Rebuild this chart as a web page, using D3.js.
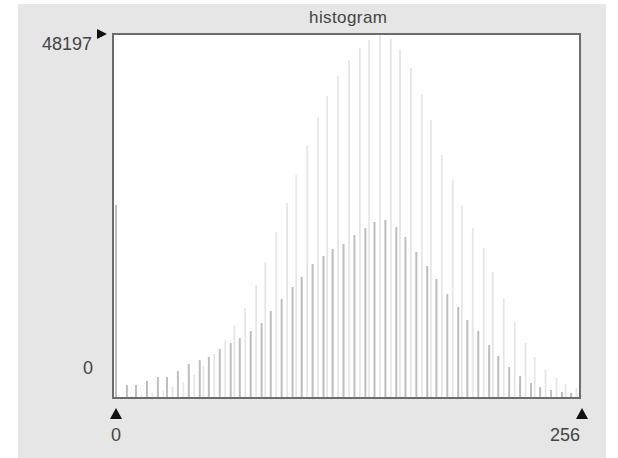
<!DOCTYPE html>
<html>
<head>
<meta charset="utf-8">
<script src="https://cdn.jsdelivr.net/npm/d3@7"></script>
<style>
  html, body { margin: 0; padding: 0; background: #fff; }
  svg { display: block; }
  text { font-family: "Liberation Sans", Arial, sans-serif; fill: #444; }
</style>
</head>
<body>
<svg id="chart"></svg>
<script>
// Histogram with a comb pattern (contrast stretched levels)

const width = 618;
const height = 458;

const title = "histogram";
const yTickLabels = ["48197", "0"];
const xTickLabels = ["0", "256"];
const binCount = 256;
const maxCount = 48197;

// darker, shorter bars
const darkBins = [0, 6, 11, 17, 23, 28, 34, 40, 46, 51, 57, 63, 68, 74, 80, 85, 91, 97, 102, 108,
    114, 119, 125, 131, 137, 142, 148, 154, 159, 165, 171, 176, 182, 188, 193, 199, 205, 210,
    216, 222, 228, 233, 239, 245, 250];
const darkCounts = [25555, 1720, 1720, 2250, 2780, 2780, 3575, 4500, 5030, 5430, 6490, 7280, 7940,
    8870, 9930, 11520, 13110, 14700, 16020, 17740, 18800, 19730, 20390, 21580, 22510, 23300,
    23570, 22640, 21320, 19330, 17480, 15760, 13770, 12050, 10330, 8870, 7020, 5560, 4100,
    2910, 1990, 1460, 1060, 790, 660];

// pale, taller bars in between
const paleBins = [3, 9, 14, 20, 26, 31, 37, 43, 48, 54, 60, 65, 71, 77, 82, 88, 94, 99, 105, 111,
    116, 122, 128, 134, 139, 145, 151, 156, 162, 168, 173, 179, 185, 190, 196, 202, 207, 213,
    219, 225, 230, 236, 242, 247, 253];
const paleCounts = [100, 260, 400, 660, 1060, 1460, 2120, 3050, 4240, 5830, 7680, 9660, 11920,
    14960, 18010, 21980, 25820, 29530, 33500, 37200, 39980, 42630, 44750, 46340, 47400, 48197,
    47530, 46210, 43690, 40250, 36810, 32170, 28860, 25550, 22510, 19860, 16680, 13240, 10060,
    7280, 5430, 3710, 2650, 1850, 1320];

const box = { left: 113, top: 34, right: 580, bottom: 398 };

const svg = d3.select("#chart").attr("width", width).attr("height", height);

// soft edges, like the scanned original
svg.append("defs").append("filter")
    .attr("id", "soft")
    .append("feGaussianBlur")
    .attr("stdDeviation", 0.45);

// grey panel
svg.append("rect")
    .attr("x", 18).attr("y", 4)
    .attr("width", 588).attr("height", height - 4)
    .attr("fill", "#e6e6e6");

// plot area
svg.append("rect")
    .attr("x", box.left).attr("y", box.top)
    .attr("width", box.right - box.left).attr("height", box.bottom - box.top)
    .attr("fill", "#ffffff");

const x = d3.scaleLinear().domain([0, binCount]).range([116, 582]);
const y = d3.scaleLinear().domain([0, maxCount]).range([box.bottom, box.top]);

const pale = paleBins.map((b, i) => ({ bin: b, count: paleCounts[i] }));
const dark = darkBins.map((b, i) => ({ bin: b, count: darkCounts[i] }));

svg.append("g")
    .attr("filter", "url(#soft)")
    .selectAll("line")
    .data(pale)
    .join("line")
    .attr("x1", d => x(d.bin)).attr("x2", d => x(d.bin))
    .attr("y1", y(0)).attr("y2", d => y(d.count))
    .attr("stroke", "#e6e6e6")
    .attr("stroke-width", 1.8);

svg.append("g")
    .attr("filter", "url(#soft)")
    .selectAll("line")
    .data(dark)
    .join("line")
    .attr("x1", d => x(d.bin)).attr("x2", d => x(d.bin))
    .attr("y1", y(0)).attr("y2", d => y(d.count))
    .attr("stroke", "#bdbdbd")
    .attr("stroke-width", 2);

// frame
svg.append("rect")
    .attr("x", box.left).attr("y", box.top)
    .attr("width", box.right - box.left).attr("height", box.bottom - box.top)
    .attr("fill", "none")
    .attr("stroke", "#6c6c6c")
    .attr("stroke-width", 2);

// title
svg.append("text")
    .attr("x", 348).attr("y", 23)
    .attr("text-anchor", "middle")
    .attr("font-size", 17)
    .attr("textLength", 78)
    .text(title);

// y labels and marker
svg.append("text")
    .attr("x", 92).attr("y", 50)
    .attr("text-anchor", "end")
    .attr("font-size", 18)
    .attr("textLength", 50)
    .text(yTickLabels[0]);

svg.append("text")
    .attr("x", 93).attr("y", 374)
    .attr("text-anchor", "end")
    .attr("font-size", 18)
    .text(yTickLabels[1]);

svg.append("path")
    .attr("d", `M97,${y(maxCount) - 5}L97,${y(maxCount) + 5}L107,${y(maxCount)}Z`)
    .attr("fill", "#111");

// x markers and labels
const xEnds = [0, binCount];
svg.append("g").selectAll("path")
    .data(xEnds)
    .join("path")
    .attr("d", d => `M${x(d) - 6},419L${x(d) + 6},419L${x(d)},408Z`)
    .attr("fill", "#111");

svg.append("g").selectAll("text")
    .data(xEnds)
    .join("text")
    .attr("x", (d, i) => i === 0 ? x(d) : x(d) - 17)
    .attr("y", 441)
    .attr("text-anchor", "middle")
    .attr("font-size", 18)
    .text((d, i) => xTickLabels[i]);
</script>
</body>
</html>
